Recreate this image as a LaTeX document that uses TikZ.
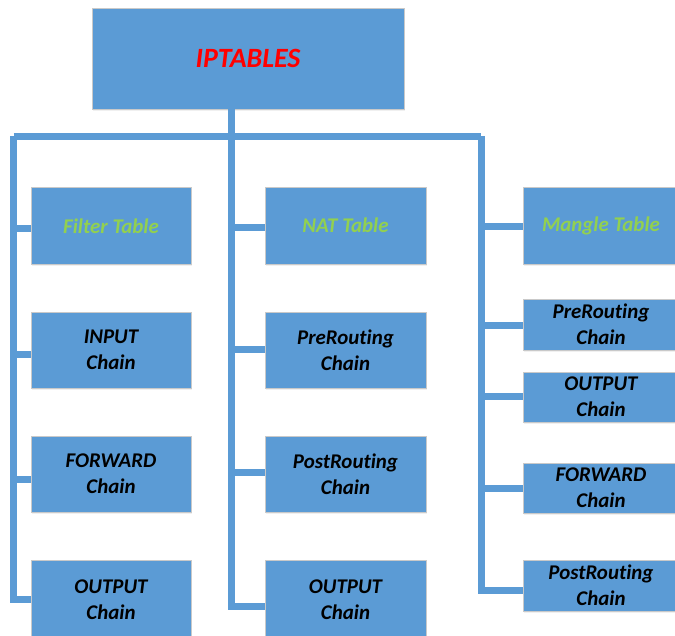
\documentclass[tikz,border=0pt]{standalone}
\usepackage{fontspec}
\setmainfont{Carlito}[Ligatures={NoCommon}]
\usetikzlibrary{calc,shadows}
\definecolor{boxblue}{HTML}{5B9BD5}
\definecolor{boxedge}{HTML}{C9C9C9}
\definecolor{tablegreen}{HTML}{92D050}
\definecolor{titlered}{HTML}{FF0000}
\tikzset{
  box/.style={rectangle, fill=boxblue, draw=boxedge, line width=0.8bp,
    align=center, inner sep=0pt, font=\fontsize{21}{26}\selectfont\bfseries\itshape,
    drop shadow={shadow xshift=1bp, shadow yshift=-2bp, opacity=0.12}},
  tablebox/.style={box, text=tablegreen},
  chainbox/.style={box, text=black},
  link/.style={draw=boxblue, line width=7bp}
}
\begin{document}
\begin{tikzpicture}[x=1bp, y=-1bp]
  \useasboundingbox (0,0) rectangle (675,636);
  \clip (0,0) rectangle (675,636);

  % trunk corners
  \coordinate (L) at (13.5,136.5);
  \coordinate (M) at (231.5,136.5);
  \coordinate (R) at (481,136.5);

  % horizontal bar joining the three columns
  \path[link] (L) -- (R);

  % root
  \node[box, text=titlered, minimum width=312bp, minimum height=101bp,
        font=\fontsize{28}{32}\selectfont\bfseries\itshape] (root) at (248,58.5) {IPTABLES};
  \path[link] (root.south -| M) -- (M);

  % filter column
  \node[tablebox, text height=20bp, text depth=5bp, minimum width=160bp, minimum height=77bp] (filter) at (111,225.5) {Filter Table};
  \node[chainbox, minimum width=160bp, minimum height=76bp] (finput) at (111,350) {INPUT\\Chain};
  \node[chainbox, minimum width=160bp, minimum height=76bp] (fforward) at (111,474) {FORWARD\\Chain};
  \node[chainbox, minimum width=160bp, minimum height=80bp] (foutput) at (111,600) {OUTPUT\\Chain};

  % nat column
  \node[tablebox, minimum width=161bp, minimum height=77bp] (nat) at (345.5,225.5) {NAT Table};
  \node[chainbox, minimum width=161bp, minimum height=76bp] (nprerouting) at (345.5,350) {PreRouting\\Chain};
  \node[chainbox, minimum width=161bp, minimum height=76bp] (npostrouting) at (345.5,474) {PostRouting\\Chain};
  \node[chainbox, minimum width=161bp, minimum height=80bp] (noutput) at (345.5,600) {OUTPUT\\Chain};

  % mangle column
  \node[tablebox, minimum width=156bp, minimum height=77bp] (mangle) at (601,225.5) {Mangle Table};
  \node[chainbox, minimum width=156bp, minimum height=51bp] (mprerouting) at (601,324.5) {PreRouting\\Chain};
  \node[chainbox, minimum width=156bp, minimum height=50bp] (moutput) at (601,397) {OUTPUT\\Chain};
  \node[chainbox, minimum width=156bp, minimum height=50bp] (mforward) at (601,488) {FORWARD\\Chain};
  \node[chainbox, minimum width=156bp, minimum height=51bp] (mpostrouting) at (601,585.5) {PostRouting\\Chain};

  % branches to the filter column
  \path[link] (L) |- ($(filter.west)+(0,2.5)$);
  \path[link] (L) |- ($(finput.west)+(0,4)$);
  \path[link] (L) |- ($(fforward.west)+(0,5)$);
  \path[link] (L) |- ($(foutput.west)+(0,-1)$);

  % branches to the nat column
  \path[link] (M) |- ($(nat.west)+(0,1.5)$);
  \path[link] (M) |- ($(nprerouting.west)+(0,-1)$);
  \path[link] (M) |- ($(npostrouting.west)+(0,-2)$);
  \path[link] (M) |- ($(noutput.west)+(0,6)$);

  % branches to the mangle column
  \path[link] (R) |- ($(mangle.west)+(0,0.5)$);
  \path[link] (R) |- ($(mprerouting.west)+(0,0.5)$);
  \path[link] (R) |- ($(moutput.west)+(0,-1)$);
  \path[link] (R) |- (mforward.west);
  \path[link] (R) |- ($(mpostrouting.west)+(0,4.5)$);
\end{tikzpicture}
\end{document}
